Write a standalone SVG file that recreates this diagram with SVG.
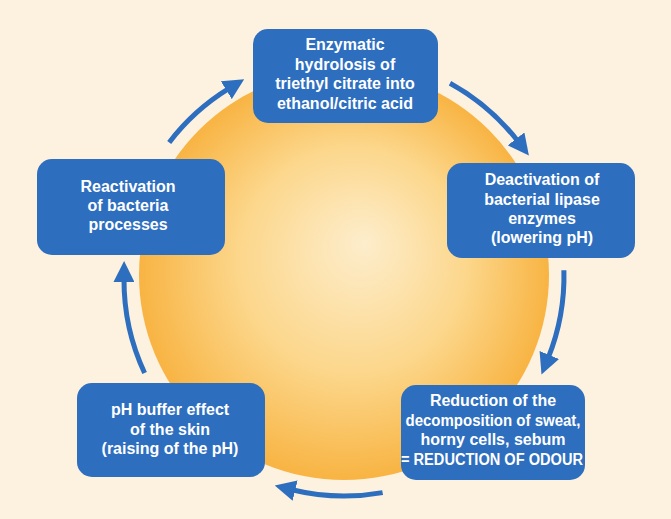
<svg xmlns="http://www.w3.org/2000/svg" width="671" height="519" viewBox="0 0 671 519">
<style>
.box{fill:#2d6ebf}
.t{font-family:"Liberation Sans",Arial,sans-serif;font-weight:bold;font-size:16px;fill:#ffffff;text-anchor:middle}
.arr{fill:none;stroke:#2d6ebf;stroke-width:5;marker-end:url(#head)}
</style>
<defs>
<radialGradient id="sun" cx="50%" cy="50%" r="50%" fx="55%" fy="42%">
<stop offset="0" stop-color="#fdedcc"/>
<stop offset="0.55" stop-color="#fcd78c"/>
<stop offset="1" stop-color="#f8b443"/>
</radialGradient>
<marker id="head" markerUnits="userSpaceOnUse" markerWidth="21" markerHeight="21" refX="3" refY="9.5" orient="auto" viewBox="0 0 19 19">
<path d="M0,0 L19,9.5 L0,19 z" fill="#2d6ebf"/>
</marker>
</defs>
<rect width="671" height="519" fill="#fdf1df"/>
<circle cx="344" cy="275" r="205" fill="url(#sun)"/>
<g id="connectors">
<path class="arr" d="M169.2,142.4 A220,220 0 0 1 229.1,88.4"/>
<path class="arr" d="M450,83.2 A220,220 0 0 1 518.1,141.5"/>
<path class="arr" d="M563.9,270.2 A220,220 0 0 1 548.1,358.1"/>
<path class="arr" d="M382.6,492.6 A220,220 0 0 1 291.9,489.8"/>
<path class="arr" d="M144.6,373 A220,220 0 0 1 124,278.7"/>
</g>
<g id="node1">
<rect class="box" x="253" y="29" width="185" height="94" rx="15"/>
<text class="t" x="345" y="50">Enzymatic</text>
<text class="t" x="345" y="69.5">hydrolosis of</text>
<text class="t" x="345" y="89">triethyl citrate into</text>
<text class="t" x="345" y="108.5">ethanol/citric acid</text>
</g>
<g id="node2">
<rect class="box" x="447" y="163" width="188" height="95" rx="15"/>
<text class="t" x="542" y="185">Deactivation of</text>
<text class="t" x="542" y="205">bacterial lipase</text>
<text class="t" x="542" y="223.5">enzymes</text>
<text class="t" x="542" y="243">(lowering pH)</text>
</g>
<g id="node3">
<rect class="box" x="401" y="385" width="184" height="95" rx="15"/>
<text class="t" x="493" y="406">Reduction of the</text>
<text class="t" x="493" y="425.5" textLength="175" lengthAdjust="spacingAndGlyphs">decomposition of sweat,</text>
<text class="t" x="493" y="444.5">horny cells, sebum</text>
<text class="t" x="492" y="465" textLength="182" lengthAdjust="spacingAndGlyphs">= REDUCTION OF ODOUR</text>
</g>
<g id="node4">
<rect class="box" x="77" y="383" width="188" height="94" rx="15"/>
<text class="t" x="170" y="415">pH buffer effect</text>
<text class="t" x="170" y="434.5">of the skin</text>
<text class="t" x="170" y="454">(raising of the pH)</text>
</g>
<g id="node5">
<rect class="box" x="37" y="159" width="188" height="96" rx="15"/>
<text class="t" x="128" y="192">Reactivation</text>
<text class="t" x="128" y="210.5">of bacteria</text>
<text class="t" x="128" y="229.5">processes</text>
</g>
</svg>
